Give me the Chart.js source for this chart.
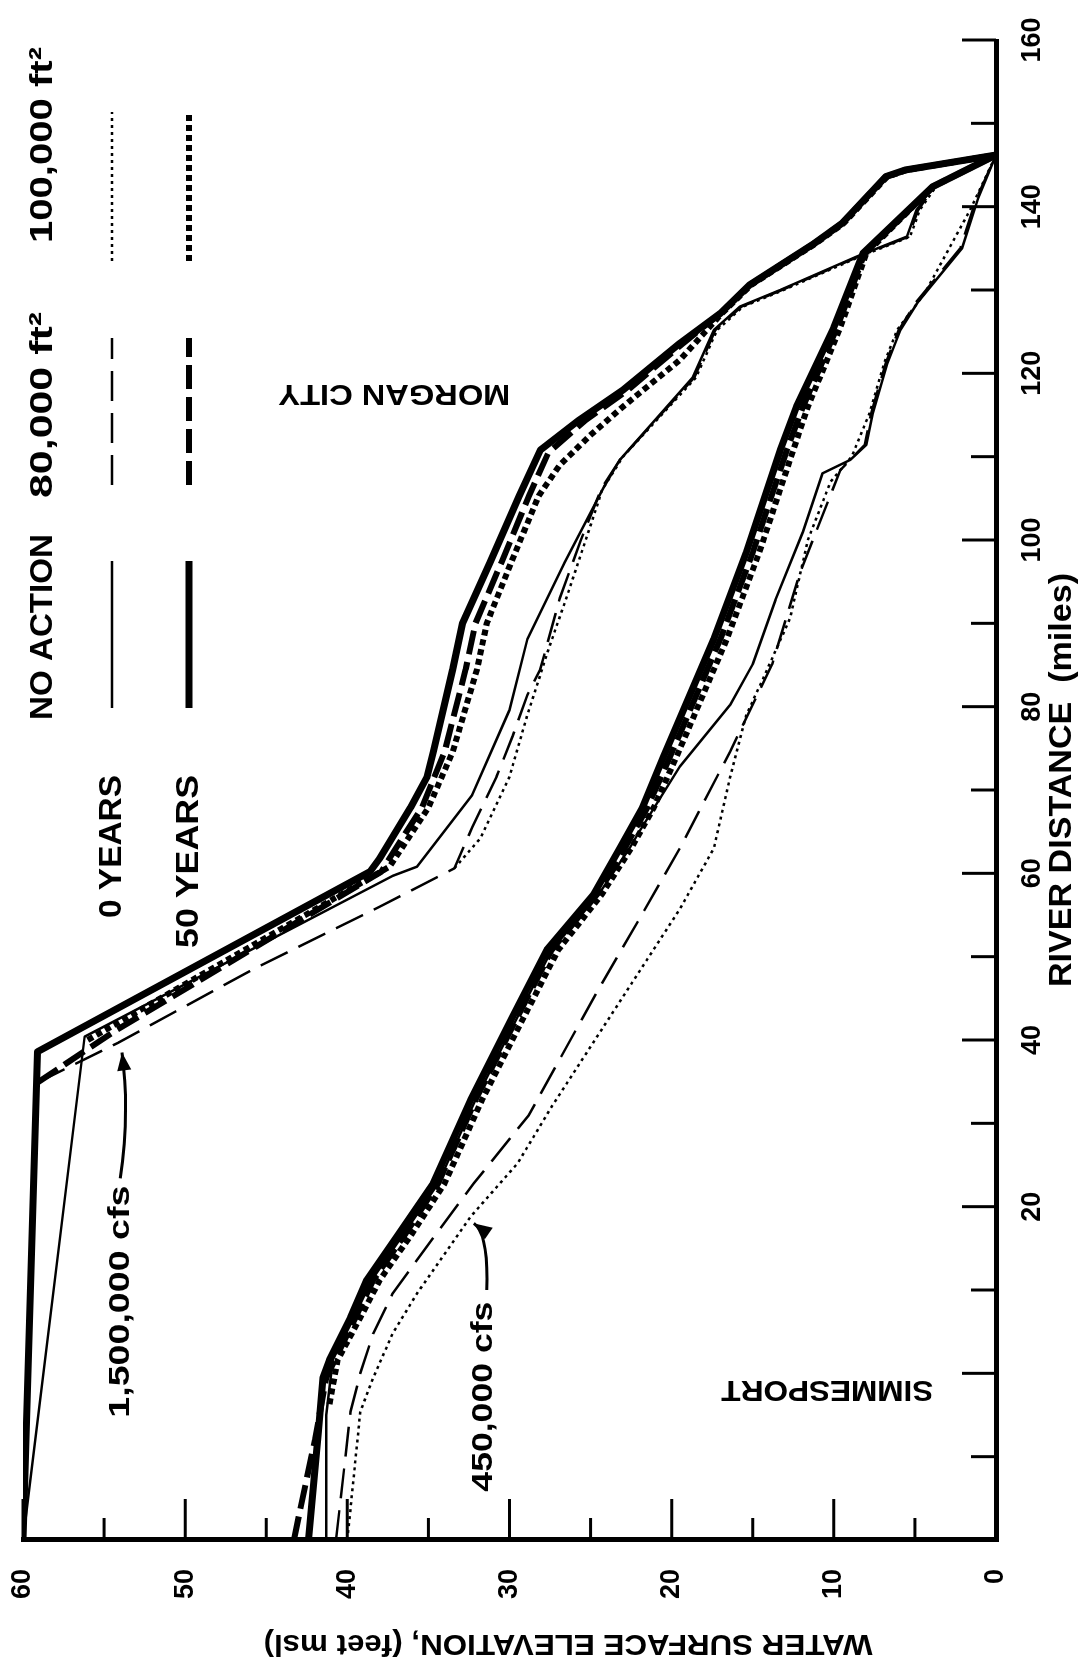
<!DOCTYPE html>
<html>
<head>
<meta charset="utf-8">
<script src="https://cdn.jsdelivr.net/npm/chart.js@4.4.1/dist/chart.umd.min.js"></script>
<style>
  html, body { margin: 0; padding: 0; background: #fff; }
  body { width: 1085px; height: 1664px; position: relative; overflow: hidden; }
  /* the chart is drawn in its natural landscape layout and turned a quarter to the left */
  #wrap { position: absolute; left: 0; top: 0; width: 1664px; height: 1085px;
          transform-origin: 0 0; transform: translate(0, 1664px) rotate(-90deg); }
</style>
</head>
<body>
<div id="wrap"><canvas id="chart" width="1664" height="1085"></canvas></div>
<script>
// [river distance (miles), water surface elevation (feet msl)]
// 1,500,000 cfs
const HI_NA_0 = [[-20,60.0],[40.4,56.2],[59.7,37.2],[60.8,35.7],[69.4,32.3],[79.6,30.0],[88.1,28.9],[97.3,26.6],[106.3,24.2],[109.6,23.2],[119.5,18.7],[125.2,17.4],[128,15.8],[130,13.3],[134,8.6],[136.4,5.5],[139.6,4.9],[142.4,3.9],[146.2,0]];
const HI_A80_0 = [[34.9,59.1],[39.7,54.1],[48.5,45.8],[56,38.0],[60.6,33.4],[65.5,32.3],[71.6,30.8],[76.5,29.8],[81.4,28.9],[84.5,28.1],[93,26.9],[100,25.6],[106.3,24.3],[109.6,23.2],[119.5,18.6],[125.2,17.3],[128,15.7],[130,13.2],[134,8.5],[136.4,5.4],[139.6,4.8],[142.4,3.8],[146.2,0]];
const HI_A100_0 = [[60.6,33.4],[64.2,31.8],[71.6,30.0],[79,28.9],[83.8,28.1],[86.3,27.7],[93,26.5],[104.1,24.6],[106,24.3],[110,23.0],[119.5,18.5],[125.2,17.2],[128,15.6],[130,13.1],[134,8.4],[136.4,5.3],[139.6,4.7],[142.4,3.7],[146.2,0]];
const HI_NA_50 = [[-20,60.0],[38.6,59.1],[60.2,38.6],[61.8,38.0],[67.9,36.1],[71.5,35.1],[74.6,34.7],[84.5,33.5],[90,32.9],[97.3,31.2],[105.3,29.4],[110.8,28.1],[114.4,25.7],[118,23.0],[123.6,19.5],[127.2,17.0],[130.6,15.2],[135.6,11.2],[138,9.5],[143.6,6.8],[144.4,5.6],[146.2,0]];
const HI_A80_50 = [[34.9,59.1],[41,54.4],[60.2,37.9],[61.8,37.4],[67.9,35.4],[74.6,34.0],[84.5,32.7],[90,32.1],[97.3,30.5],[105.3,28.8],[110.5,27.6],[114.4,25.3],[118,22.7],[123.6,19.3],[127.2,17.0],[130.6,15.2],[135.6,11.2],[138,9.5],[143.6,6.8],[144.4,5.6],[146.2,0]];
const HI_A100_50 = [[40,56.0],[60.8,37.4],[67.9,35.0],[74.6,33.5],[84.5,32.0],[90,31.4],[97.3,29.9],[105.3,28.2],[109,26.9],[112.6,25.0],[116,23.0],[121.6,19.5],[127.2,16.9],[130.6,15.1],[135.6,11.1],[138,9.4],[143.6,6.7],[144.4,5.5],[146.2,0]];
// 450,000 cfs
const LO_NA_0 = [[-20,41.3],[-14.4,41.3],[-5,41.3],[1.6,40.9],[6.7,39.6],[11.2,38.5],[16.8,36.5],[22.8,34.4],[32.8,32.1],[42.8,29.5],[50.8,27.4],[57.5,24.5],[63,22.6],[65,22.0],[72.8,19.5],[80.2,16.4],[85.1,15.0],[92.8,13.6],[101,11.9],[108,10.7],[109.6,9.0],[111.4,8.0],[115.2,7.6],[121.2,6.7],[125.2,5.9],[128.6,4.8],[135,2.1],[141,1.1],[146.2,0]];
const LO_A80_0 = [[-20,40.7],[-4.6,39.8],[0,39.2],[4.8,38.4],[9.6,37.2],[16.8,34.5],[22.8,32.2],[31,28.8],[45.8,24.6],[54.5,22.0],[63,19.5],[74.6,16.4],[85.1,13.8],[96,12.1],[108.4,9.6],[111.4,8.1],[115.2,7.7],[121.2,6.8],[125.2,6.0],[128.6,4.9],[135,2.2],[141,1.2],[146.2,0]];
const LO_A100_0 = [[-20,40.0],[-4.6,39.2],[-0.5,38.4],[4.8,37.2],[9.6,35.7],[18.8,32.4],[25.2,29.5],[32,27.4],[43.4,23.6],[55.7,19.5],[63,17.4],[71.5,16.4],[79,15.4],[83.2,14.4],[90.6,12.7],[100,11.6],[107,10.2],[110,8.9],[115.2,7.8],[121.2,6.9],[125.2,6.1],[129.6,4.4],[139.6,1.6],[146.2,0]];
const LO_NA_50 = [[-20,42.4],[-7.2,41.8],[-0.5,41.5],[1.6,41.1],[6.7,39.8],[11.2,38.8],[16.8,36.8],[22.8,34.7],[32.8,32.4],[42.8,29.8],[50.8,27.7],[57.5,24.8],[63,23.2],[67.9,21.8],[74,20.5],[88.1,17.4],[98.5,15.4],[110.8,13.3],[116,12.3],[125.5,10.0],[134.4,8.2],[142.4,3.9],[146.2,0]];
const LO_A80_50 = [[-20,43.3],[-8,42.0],[-0.5,41.3],[6.7,39.5],[11.2,38.4],[16.8,36.4],[22.8,34.4],[32.8,32.1],[42.8,29.5],[50.8,27.4],[57.5,24.6],[63,22.9],[67.9,21.5],[74,20.1],[88.1,17.0],[98.5,15.0],[110.8,12.9],[116,11.9],[125.5,9.8],[134.4,8.1],[142.4,3.9],[146.2,0]];
const LO_A100_50 = [[-3.7,41.1],[1.6,40.6],[6.7,39.2],[11.2,38.0],[16.8,36.0],[22.8,34.0],[32.8,31.7],[42.8,29.1],[50.8,27.0],[57.5,24.3],[63,22.5],[67.9,21.1],[74,19.7],[88.1,16.6],[98.5,14.6],[110.8,12.5],[116,11.6],[125.5,9.6],[134.4,8.0],[142.4,3.9],[146.2,0]];

const DIST_TICKS = [-20,-10,0,10,20,30,40,50,60,70,80,90,100,110,120,130,140,150,160];
const DIST_LABELS = [20,40,60,80,100,120,140,160];
const ELEV_TICKS = [0,5,10,15,20,25,30,35,40,45,50,55,60];
const ELEV_LABELS = [0,10,20,30,40,50,60];

const LEGEND_COLS = ['NO ACTION', '80,000 ft²', '100,000 ft²'];
const LEGEND_ROWS = ['0 YEARS', '50 YEARS'];

const X_TITLE = 'RIVER DISTANCE  (miles)';
const Y_TITLE = 'WATER SURFACE ELEVATION, (feet msl)';

const FONT = '"Liberation Sans", Arial, Helvetica, sans-serif';

// line looks: thin = 0 years, thick = 50 years
const LOOK = {
  na0:     { borderWidth: 2.5, borderDash: [] },
  a80_0:   { borderWidth: 2.5, borderDash: [30, 12] },
  a100_0:  { borderWidth: 2.5, borderDash: [3, 4] },
  na50:    { borderWidth: 7, borderDash: [] },
  a80_50:  { borderWidth: 6, borderDash: [24, 8] },
  a100_50: { borderWidth: 6, borderDash: [6, 4] },
};
const LOOK_GRID = [['na0', 'a80_0', 'a100_0'], ['na50', 'a80_50', 'a100_50']];

const SERIES = [
  [HI_NA_0, 'na0'], [HI_A80_0, 'a80_0'], [HI_A100_0, 'a100_0'],
  [HI_NA_50, 'na50'], [HI_A80_50, 'a80_50'], [HI_A100_50, 'a100_50'],
  [LO_NA_0, 'na0'], [LO_A80_0, 'a80_0'], [LO_A100_0, 'a100_0'],
  [LO_NA_50, 'na50'], [LO_A80_50, 'a80_50'], [LO_A100_50, 'a100_50'],
];

function makeDataset(pts, look) {
  return {
    data: pts.map(([x, y]) => ({ x, y })),
    borderColor: '#000',
    borderWidth: LOOK[look].borderWidth,
    borderDash: LOOK[look].borderDash,
    borderJoinStyle: 'round',
    pointRadius: 0,
    fill: false,
    tension: 0,
  };
}

// bold text; if width is given the text is stretched to that width
function text(ctx, s, x, y, size, opts) {
  const o = opts || {};
  ctx.save();
  ctx.translate(x, y);
  if (o.rot) ctx.rotate(o.rot);
  ctx.font = `bold ${size}px ${FONT}`;
  ctx.fillStyle = '#000';
  ctx.textBaseline = 'middle';
  ctx.textAlign = 'left';
  const w = ctx.measureText(s).width;
  const sx = o.width ? o.width / w : 1;
  const full = w * sx;
  let x0 = -full / 2;
  if (o.align === 'left') x0 = 0;
  if (o.align === 'right') x0 = -full;
  ctx.translate(x0, 0);
  ctx.scale(sx, 1);
  ctx.fillText(s, 0, 0);
  ctx.restore();
}

function seg(ctx, x1, y1, x2, y2) {
  ctx.beginPath();
  ctx.moveTo(x1, y1);
  ctx.lineTo(x2, y2);
  ctx.stroke();
}

// labels inside the plot, placed in data units
const NOTES = [
  { s: '1,500,000 cfs', at: [8.6, 54.0], width: 232, rot: 0 },
  { s: '450,000 cfs', at: [-2.8, 31.6], width: 190, rot: 0 },
  { s: 'MORGAN CITY', at: [117.6, 37.1], width: 232, rot: -Math.PI / 2 },
  { s: 'SIMMESPORT', at: [-1.9, 10.4], width: 212, rot: -Math.PI / 2 },
];
const ARROWS = [
  { from: [23.4, 54.0], via: [31, 53.4], to: [38.5, 53.9] },
  { from: [10.0, 31.4], via: [16.8, 31.3], to: [18.0, 32.2] },
];

const frame = {
  id: 'frame',
  afterDraw(chart) {
    const { ctx, chartArea: a } = chart;
    const xs = chart.scales.x, ys = chart.scales.y;
    ctx.save();
    ctx.strokeStyle = '#000';
    ctx.fillStyle = '#000';
    ctx.lineCap = 'butt';

    // inward tick marks
    ctx.lineWidth = 3;
    DIST_TICKS.forEach(d => {
      const px = xs.getPixelForValue(d);
      seg(ctx, px, a.bottom, px, a.bottom - (d % 20 === 0 ? 34 : 25));
    });
    ELEV_TICKS.forEach(e => {
      const py = ys.getPixelForValue(e);
      seg(ctx, a.left, py, a.left + (e % 10 === 0 ? 41 : 22), py);
    });

    // axis titles
    text(ctx, X_TITLE, 884, 1062, 31, { width: 414 });
    text(ctx, Y_TITLE, 21, 568, 30, { rot: -Math.PI / 2, width: 609 });

    // notes and arrows
    NOTES.forEach(n => {
      text(ctx, n.s, xs.getPixelForValue(n.at[0]), ys.getPixelForValue(n.at[1]), 30, { rot: n.rot, width: n.width });
    });
    ARROWS.forEach(ar => {
      const p0 = [xs.getPixelForValue(ar.from[0]), ys.getPixelForValue(ar.from[1])];
      const c = [xs.getPixelForValue(ar.via[0]), ys.getPixelForValue(ar.via[1])];
      const p1 = [xs.getPixelForValue(ar.to[0]), ys.getPixelForValue(ar.to[1])];
      ctx.lineWidth = 3;
      ctx.beginPath();
      ctx.moveTo(p0[0], p0[1]);
      ctx.quadraticCurveTo(c[0], c[1], p1[0], p1[1]);
      ctx.stroke();
      const ang = Math.atan2(p1[1] - c[1], p1[0] - c[0]);
      const L = 18, W = 7;
      ctx.beginPath();
      ctx.moveTo(p1[0], p1[1]);
      ctx.lineTo(p1[0] - L * Math.cos(ang) + W * Math.sin(ang), p1[1] - L * Math.sin(ang) - W * Math.cos(ang));
      ctx.lineTo(p1[0] - L * Math.cos(ang) - W * Math.sin(ang), p1[1] - L * Math.sin(ang) + W * Math.cos(ang));
      ctx.closePath();
      ctx.fill();
    });

    // legend table
    const headLeft = [944, 1166, 1421];
    const headWidth = [186, 186, 196];
    const sample = [[956, 1103], [1179, 1326], [1403, 1552]];
    const rowY = [112, 189];
    const rowWidth = [143, 173];
    LEGEND_COLS.forEach((s, i) => text(ctx, s, headLeft[i], 43, 32, { align: 'left', width: headWidth[i] }));
    LEGEND_ROWS.forEach((s, r) => {
      text(ctx, s, 889, rowY[r], 32, { align: 'right', width: rowWidth[r] });
      LOOK_GRID[r].forEach((k, i) => {
        ctx.lineWidth = LOOK[k].borderWidth;
        ctx.setLineDash(LOOK[k].borderDash);
        seg(ctx, sample[i][0], rowY[r], sample[i][1], rowY[r]);
      });
    });
    ctx.setLineDash([]);
    ctx.restore();
  }
};

const tickFont = { family: FONT, size: 27, weight: 'bold' };

new Chart(document.getElementById('chart').getContext('2d'), {
  type: 'line',
  data: { datasets: SERIES.map(([pts, look]) => makeDataset(pts, look)) },
  options: {
    responsive: false,
    animation: false,
    devicePixelRatio: 1,
    layout: { padding: { top: 23, right: 40, left: 0, bottom: 0 } },
    plugins: { legend: { display: false }, tooltip: { enabled: false } },
    scales: {
      x: {
        type: 'linear',
        min: -20,
        max: 160,
        afterBuildTicks: (s) => { s.ticks = DIST_TICKS.map(v => ({ value: v })); },
        afterFit: (s) => { s.height = 89; s.paddingLeft = 0; s.paddingRight = 0; },
        grid: { display: false, drawTicks: false },
        border: { display: true, color: '#000', width: 5 },
        ticks: {
          color: '#000', font: tickFont, padding: 20, maxRotation: 0, autoSkip: false,
          callback: (v) => DIST_LABELS.includes(v) ? String(v) : '',
        },
      },
      y: {
        type: 'linear',
        min: 0,
        max: 60,
        afterBuildTicks: (s) => { s.ticks = ELEV_TICKS.map(v => ({ value: v })); },
        afterFit: (s) => { s.width = 124; s.paddingTop = 0; s.paddingBottom = 0; },
        grid: { display: false, drawTicks: false },
        border: { display: true, color: '#000', width: 5 },
        ticks: {
          color: '#000', font: tickFont, padding: 29, autoSkip: false,
          callback: (v) => ELEV_LABELS.includes(v) ? String(v) : '',
        },
      },
    },
  },
  plugins: [frame],
});
</script>
</body>
</html>
